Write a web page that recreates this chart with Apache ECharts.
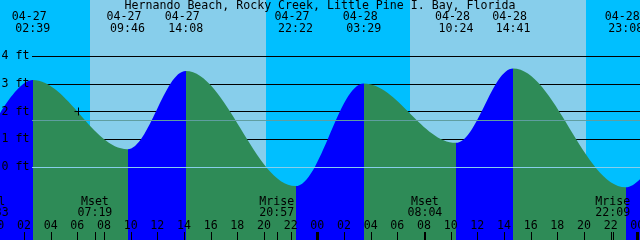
<!DOCTYPE html>
<html><head><meta charset="utf-8">
<script src="https://cdn.jsdelivr.net/npm/echarts@6/dist/echarts.min.js"></script>
<style>html,body{margin:0;padding:0;background:#00BFFF}#c{width:640px;height:240px}</style>
</head><body><div id="c"></div>
<script>
// ---------- data (hours counted from 04-27 00:00 local) ----------
const chartTitle = 'Hernando Beach, Rocky Creek, Little Pine I. Bay, Florida';
// high / low tide events shown on the chart
const eventTimes   = [2.65, 9.767, 14.133, 22.367, 27.483, 34.4, 38.683, 47.133];
const eventHeights = [3.15, 0.66, 3.48, -0.67, 3.03, 0.89, 3.57, -0.71];
const eventDates   = ['04-27', '04-27', '04-27', '04-27', '04-28', '04-28', '04-28', '04-28'];
const eventClock   = ['02:39', '09:46', '14:08', '22:22', '03:29', '10:24', '14:41', '23:08'];
// extremes just outside the window (estimated from the curve at the edges)
const beforeEvent = [-2.48, -0.60];
const afterEvent  = [52.25, 2.90];
// sun: daylight intervals
const sunrise = [6.95, 30.95];
const sunset  = [20.15, 44.15];
// moon events
const moonTimes = [-0.45, 7.317, 20.95, 32.067, 46.15];
const moonNames = ['Full', 'Mset', 'Mrise', 'Mset', 'Mrise'];
const moonClock = ['23:33', '07:19', '20:57', '08:04', '22:09'];
// hour ticks
const tickHours  = [0, 2, 4, 6, 8, 10, 12, 14, 16, 18, 20, 22, 24, 26, 28, 30, 32, 34, 36, 38, 40, 42, 44, 46, 48];
const tickLabels = ['00','02','04','06','08','10','12','14','16','18','20','22','00','02','04','06','08','10','12','14','16','18','20','22','00'];
// height reference lines
const ftLevels = [0, 1, 2, 3, 4];
const ftLabels = ['0 ft', '1 ft', '2 ft', '3 ft', '4 ft'];
const mslLevel = 1.69;
// current-time mark [hour, ft]
const nowMark = [6.07, 2.02];

// ---------- chart ----------
const X_MIN = 0.2, X_MAX = 48.2;
const Y_MIN = -2.6126, Y_MAX = 6.036;
const FONT = '11.6px "DejaVu Sans Mono", monospace';
const C = {
  night: '#00BFFF', day: '#87CEEB', flood: '#0000FF', ebb: '#2E8B57',
  fg: '#000000', datum: '#87CEEB', msl: '#5F9EA0'
};

const allT = [beforeEvent[0]].concat(eventTimes, [afterEvent[0]]);
const allH = [beforeEvent[1]].concat(eventHeights, [afterEvent[1]]);
const tideData = allT.map((t, i) => [t, allH[i]]);
const pieces = [];
for (let i = 0; i < allT.length - 1; i++) {
  pieces.push({ gte: allT[i], lt: allT[i + 1], color: allH[i + 1] > allH[i] ? C.flood : C.ebb });
}

function txt(text, x, y, align) {
  return { type: 'text', style: { text: text, x: x, y: y, font: FONT, fill: C.fg,
    textAlign: align || 'center', textVerticalAlign: 'middle' } };
}
const crisp = v => Math.round(v - 0.5) + 0.5;

const chart = echarts.init(document.getElementById('c'), null, { renderer: 'canvas' });
const base = { coordinateSystem: 'cartesian2d', xAxisIndex: 0, yAxisIndex: 0, silent: true, animation: false };

chart.setOption({
  backgroundColor: C.night,
  animation: false,
  grid: { left: 0, right: 0, top: 0, bottom: 0 },
  xAxis: { type: 'value', min: X_MIN, max: X_MAX, show: false },
  yAxis: { type: 'value', min: Y_MIN, max: Y_MAX, show: false },
  visualMap: { type: 'piecewise', show: false, dimension: 0, seriesIndex: 2, pieces: pieces },
  graphic: [
    { type: 'text', x: 320, y: 5.5, style: { text: chartTitle, font: FONT, fill: C.fg,
      textAlign: 'center', textVerticalAlign: 'middle' }, z: 100 }
  ],
  series: [
    Object.assign({}, base, { // daylight bands
      type: 'custom', z: 1, data: sunrise.map((t, i) => [t, sunset[i]]),
      renderItem: (p, api) => {
        const i = p.dataIndex;
        const x0 = Math.round(api.coord([sunrise[i], 0])[0]);
        const x1 = Math.round(api.coord([sunset[i], 0])[0]);
        return { type: 'rect', shape: { x: x0, y: 0, width: x1 - x0, height: 240 }, style: { fill: C.day } };
      }
    }),
    Object.assign({}, base, { // black foot lines (behind water)
      type: 'custom', z: 2, data: ftLevels.slice(1).map(l => [X_MIN, l]),
      renderItem: (p, api) => {
        const y = crisp(api.coord([X_MIN, ftLevels[p.dataIndex + 1]])[1]);
        return { type: 'line', shape: { x1: 32, y1: y, x2: 640, y2: y }, style: { stroke: C.fg, lineWidth: 1 } };
      }
    }),
    Object.assign({}, base, { // tide
      type: 'line', z: 3, data: tideData, smooth: 0.36, smoothMonotone: 'x', symbol: 'none',
      lineStyle: { width: 0, opacity: 0 }, areaStyle: { origin: 'start', opacity: 1 }, clip: true
    }),
    Object.assign({}, base, { // datum & MSL lines
      type: 'custom', z: 4, data: [[X_MIN, 0], [X_MIN, mslLevel]],
      renderItem: (p, api) => {
        const lvl = p.dataIndex === 0 ? ftLevels[0] : mslLevel;
        const y = crisp(api.coord([X_MIN, lvl])[1]);
        return { type: 'line', shape: { x1: 32, y1: y, x2: 640, y2: y },
          style: { stroke: p.dataIndex === 0 ? C.datum : C.msl, lineWidth: 1 } };
      }
    }),
    Object.assign({}, base, { // foot labels
      type: 'custom', z: 5, data: ftLevels.map(l => [X_MIN, l]),
      renderItem: (p, api) => {
        const y = api.coord([X_MIN, ftLevels[p.dataIndex]])[1];
        return txt(ftLabels[p.dataIndex], 1.5, y - 0.5, 'left');
      }
    }),
    Object.assign({}, base, { // hour ticks + labels
      type: 'custom', z: 5, data: tickHours.map(h => [h, 0]),
      renderItem: (p, api) => {
        const h = tickHours[p.dataIndex];
        const xr = api.coord([h, 0])[0];
        const x = Math.round(xr);
        const major = h % 24 === 0;
        return { type: 'group', children: [
          { type: 'line', shape: { x1: x + 0.5, y1: 232, x2: x + 0.5, y2: 240 },
            style: { stroke: C.fg, lineWidth: major ? 3 : 1 } },
          txt(tickLabels[p.dataIndex], xr, 225.5)
        ] };
      }
    }),
    Object.assign({}, base, { // moon events
      type: 'custom', z: 5, data: moonTimes.map(t => [t, 0]),
      renderItem: (p, api) => {
        const i = p.dataIndex;
        const xr = api.coord([moonTimes[i], 0])[0];
        const x = Math.round(xr);
        return { type: 'group', children: [
          { type: 'line', shape: { x1: x + 0.5, y1: 232, x2: x + 0.5, y2: 240 }, style: { stroke: C.fg, lineWidth: 1 } },
          txt(moonNames[i], xr, 202),
          txt(moonClock[i], xr, 213)
        ] };
      }
    }),
    Object.assign({}, base, { // tide event labels
      type: 'custom', z: 5, data: eventTimes.map((t, i) => [t, eventHeights[i]]),
      renderItem: (p, api) => {
        const i = p.dataIndex;
        const xr = api.coord([eventTimes[i], 0])[0];
        return { type: 'group', children: [
          txt(eventDates[i], xr - 3.5, 17),
          txt(eventClock[i], xr, 29)
        ] };
      }
    }),
    Object.assign({}, base, { // now mark
      type: 'custom', z: 6, data: [nowMark],
      renderItem: (p, api) => {
        const pt = api.coord(nowMark);
        const x = Math.round(pt[0]) + 0.5, y = Math.round(pt[1]) + 0.5;
        return { type: 'group', children: [
          { type: 'line', shape: { x1: x - 4, y1: y, x2: x + 4, y2: y }, style: { stroke: C.fg, lineWidth: 1 } },
          { type: 'line', shape: { x1: x, y1: y - 4, x2: x, y2: y + 4 }, style: { stroke: C.fg, lineWidth: 1 } }
        ] };
      }
    })
  ]
});
</script>
</body></html>
